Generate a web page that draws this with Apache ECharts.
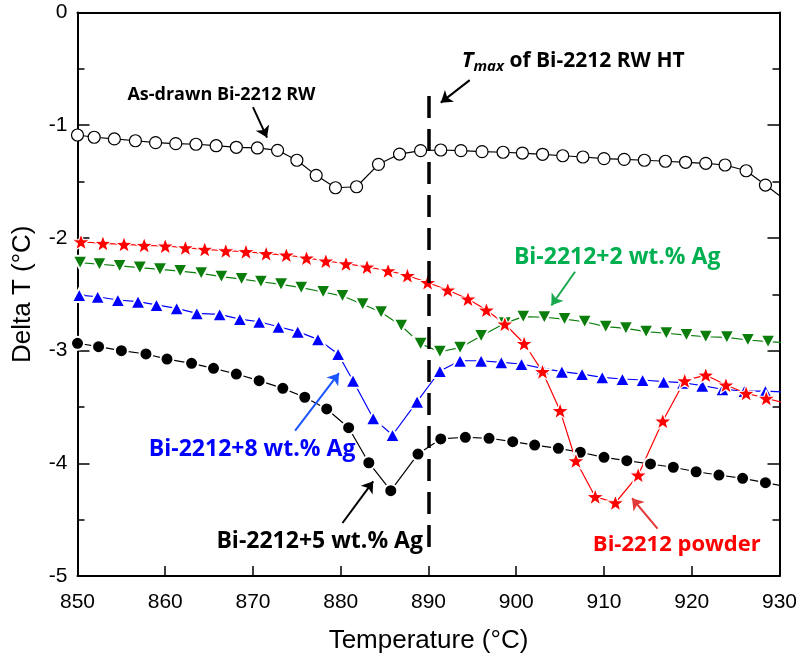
<!DOCTYPE html>
<html><head><meta charset="utf-8">
<script src="https://cdn.jsdelivr.net/npm/echarts@6/dist/echarts.min.js"></script>
<style>html,body{margin:0;padding:0;background:#fff}#c{width:800px;height:659px}</style>
</head><body><div id="c"></div>
<script>
// ---- data ----
const asDrawnT = [850,851.9,854.2,856.6,858.9,861.2,863.5,865.8,868.1,870.5,872.8,875.0,877.2,879.4,881.8,884.3,886.7,889.1,891.4,893.7,896.1,898.5,900.7,903.0,905.3,907.6,910.0,912.3,914.6,917.0,919.3,921.6,923.8,926.2,928.4,930.6];
const asDrawnV = [-1.087,-1.107,-1.122,-1.138,-1.155,-1.164,-1.169,-1.182,-1.196,-1.202,-1.223,-1.311,-1.445,-1.555,-1.546,-1.347,-1.256,-1.226,-1.220,-1.226,-1.235,-1.240,-1.247,-1.258,-1.271,-1.282,-1.297,-1.303,-1.311,-1.320,-1.329,-1.338,-1.353,-1.404,-1.531,-1.66];

const powderT = [850.4,852.9,855.3,857.6,860.0,862.3,864.5,866.9,869.2,871.5,873.8,876.1,878.3,880.6,883.0,885.4,887.6,889.9,892.2,894.5,896.6,898.7,900.9,903.0,905.0,906.8,909.0,911.3,913.9,916.7,919.2,921.6,923.9,926.2,928.5,930.8];
const powderV = [-2.034,-2.048,-2.057,-2.066,-2.072,-2.087,-2.101,-2.114,-2.122,-2.140,-2.152,-2.178,-2.205,-2.229,-2.258,-2.291,-2.334,-2.396,-2.462,-2.542,-2.640,-2.764,-2.937,-3.187,-3.533,-3.977,-4.296,-4.350,-4.104,-3.625,-3.267,-3.217,-3.305,-3.379,-3.423,-3.47];

const ag2T = [850.3,852.5,854.8,857.1,859.4,861.7,864.1,866.4,868.7,870.9,873.2,875.5,878.0,880.2,882.5,884.6,886.9,889.1,891.3,893.6,896.0,898.7,900.8,903.2,905.5,907.8,910.2,912.5,914.8,917.1,919.4,921.6,924.0,926.4,928.7,930.9];
const ag2V = [-2.220,-2.234,-2.249,-2.264,-2.279,-2.294,-2.314,-2.344,-2.365,-2.389,-2.412,-2.442,-2.48,-2.516,-2.589,-2.660,-2.780,-2.940,-3.010,-2.974,-2.870,-2.758,-2.699,-2.704,-2.720,-2.744,-2.788,-2.802,-2.832,-2.846,-2.862,-2.877,-2.882,-2.906,-2.921,-2.93];

const ag8T = [850.2,852.3,854.6,856.9,859.0,861.3,863.6,866.2,868.5,870.7,872.9,875.1,877.4,879.7,881.4,883.7,885.9,888.7,891.3,893.6,896.0,898.3,900.6,903.0,905.2,907.5,909.8,912.1,914.4,916.8,919.0,921.2,923.5,926.0,928.4,930.8];
const ag8V = [-2.507,-2.522,-2.551,-2.566,-2.595,-2.625,-2.669,-2.678,-2.720,-2.744,-2.788,-2.832,-2.90,-3.030,-3.267,-3.601,-3.749,-3.453,-3.181,-3.090,-3.090,-3.104,-3.119,-3.157,-3.187,-3.208,-3.237,-3.252,-3.261,-3.276,-3.285,-3.311,-3.343,-3.359,-3.359,-3.37];

const ag5T = [850.0,852.4,855.0,857.8,860.2,863.0,865.5,868.1,870.7,873.4,875.9,878.4,880.9,883.2,885.7,888.8,891.4,894.2,896.9,899.6,902.1,904.8,907.3,910.0,912.6,915.3,917.9,920.5,923.1,925.8,928.4,931.0];
const ag5V = [-2.935,-2.965,-3.001,-3.030,-3.075,-3.113,-3.157,-3.208,-3.267,-3.335,-3.414,-3.518,-3.684,-3.995,-4.243,-3.918,-3.784,-3.769,-3.778,-3.808,-3.838,-3.867,-3.902,-3.947,-3.977,-4.006,-4.035,-4.075,-4.104,-4.133,-4.172,-4.21];

const xTickMin = 850, xTickMax = 930, xTickStep = 10;
const yTickMin = -5, yTickMax = 0, yTickStep = 1;
const tmax = 890;
const tmaxLine = [-0.74, -4.81];

// annotation arrows: [fromT, fromV, toT, toV]
const arrowAsDrawn = [870.0, -0.84, 871.6, -1.11];
const arrowTmax = [894.7, -0.60, 891.4, -0.80];
const arrowAg2 = [906.7, -2.30, 904.0, -2.60];
const arrowAg8 = [874.8, -3.71, 879.8, -3.20];
const arrowAg5 = [880.2, -4.53, 883.7, -4.16];
const arrowPowder = [916.1, -4.58, 913.2, -4.31];

// annotation text anchors [T, V]
const labelAsDrawn = [866.4, -0.735];
const labelTmax = [893.8, -0.43];
const labelAg2 = [911.5, -2.17];
const labelAg8 = [869.9, -3.875];
const labelAg5 = [877.6, -4.69];
const labelPowder = [918.3, -4.725];

const zip = (a, b) => a.map((v, i) => [v, b[i]]);
const STAR = 'path://M0,-10 L2.35,-3.24 L9.51,-3.09 L3.8,1.24 L5.88,8.09 L0,4 L-5.88,8.09 L-3.8,1.24 L-9.51,-3.09 L-2.35,-3.24 Z';

const RED = '#ff0000', GREEN = '#0b7d0b', BLUE = '#0000ff', BLACK = '#000000';
const GREEN_TXT = '#00b050';

function arrow(a, color) {
  return [
    {coord: [a[0], a[1]], symbol: 'none', lineStyle: {color: color, width: 2, type: 'solid'}},
    {coord: [a[2], a[3]], symbol: 'arrow', symbolSize: 11}
  ];
}

const chart = echarts.init(document.getElementById('c'), null, {renderer: 'canvas'});
const axisFont = 'Liberation Sans, Arial, sans-serif';

const option = {
  animation: false,
  backgroundColor: '#fff',
  grid: {left: 77.5, right: 20.5, top: 12.5, bottom: 83, containLabel: false},
  xAxis: [{
    type: 'value', min: xTickMin, max: xTickMax, interval: xTickStep, position: 'bottom',
    axisLine: {onZero: false, lineStyle: {color: '#000', width: 2}},
    axisTick: {inside: true, length: 10, lineStyle: {color: '#000', width: 1.5}},
    axisLabel: {color: '#000', fontSize: 21, fontFamily: axisFont, margin: 16},
    splitLine: {show: false},
    name: 'Temperature (°C)', nameLocation: 'middle', nameGap: 52,
    nameTextStyle: {color: '#000', fontSize: 26, fontFamily: axisFont}
  }, {
    type: 'value', min: xTickMin, max: xTickMax, interval: xTickStep, position: 'top',
    axisLine: {onZero: false, lineStyle: {color: '#000', width: 2}},
    axisTick: {show: false}, axisLabel: {show: false}, splitLine: {show: false}
  }],
  yAxis: [{
    type: 'value', min: yTickMin, max: yTickMax, interval: yTickStep, position: 'left',
    axisLine: {show: true, onZero: false, lineStyle: {color: '#000', width: 2}},
    axisTick: {show: true, inside: true, length: 12, lineStyle: {color: '#000', width: 1.5}},
    minorTick: {show: true, splitNumber: 2, length: 7, lineStyle: {color: '#000', width: 1.5}},
    axisLabel: {color: '#000', fontSize: 21, fontFamily: axisFont, margin: 10},
    splitLine: {show: false}, minorSplitLine: {show: false},
    name: 'Delta T (°C)', nameLocation: 'middle', nameGap: 42, nameRotate: 90,
    nameTextStyle: {color: '#000', fontSize: 26, fontFamily: axisFont}
  }, {
    type: 'value', min: yTickMin, max: yTickMax, interval: yTickStep, position: 'right',
    axisLine: {show: true, onZero: false, lineStyle: {color: '#000', width: 2}},
    axisTick: {show: true, inside: true, length: 12, lineStyle: {color: '#000', width: 1.5}},
    minorTick: {show: true, splitNumber: 2, length: 7, lineStyle: {color: '#000', width: 1.5}},
    axisLabel: {show: false}, splitLine: {show: false}
  }],
  series: [
    {
      name: 'Bi-2212+5 wt.% Ag', type: 'line', data: zip(ag5T, ag5V), clip: true,
      symbol: 'circle', symbolSize: 13,
      itemStyle: {color: BLACK, borderColor: '#fff', borderWidth: 2},
      lineStyle: {color: BLACK, width: 1.2}
    },
    {
      name: 'Bi-2212+8 wt.% Ag', type: 'line', data: zip(ag8T, ag8V), clip: true,
      symbol: 'triangle', symbolSize: [15, 14],
      itemStyle: {color: BLUE, borderColor: '#fff', borderWidth: 2},
      lineStyle: {color: BLUE, width: 1.2}
    },
    {
      name: 'Bi-2212+2 wt.% Ag', type: 'line', data: zip(ag2T, ag2V), clip: true,
      symbol: 'triangle', symbolRotate: 180, symbolSize: [15, 14],
      itemStyle: {color: GREEN, borderColor: '#fff', borderWidth: 2},
      lineStyle: {color: GREEN, width: 1.2}
    },
    {
      name: 'Bi-2212 powder', type: 'line', data: zip(powderT, powderV), clip: true,
      symbol: STAR, symbolSize: [18, 17],
      itemStyle: {color: RED, borderColor: '#fff', borderWidth: 1.2, borderJoin: 'round'},
      lineStyle: {color: RED, width: 1.2}
    },
    {
      name: 'As-drawn Bi-2212 RW', type: 'line', data: zip(asDrawnT, asDrawnV), clip: true,
      symbol: 'circle', symbolSize: 12,
      itemStyle: {color: '#fff', borderColor: BLACK, borderWidth: 1.2},
      lineStyle: {color: BLACK, width: 1.2},
      markLine: {
        silent: true, animation: false, label: {show: false},
        symbol: ['none', 'arrow'], symbolSize: 11,
        data: [
          [
            {coord: [tmax, tmaxLine[0]], symbol: 'none', lineStyle: {color: '#000', width: 3.5, type: [22, 11]}},
            {coord: [tmax, tmaxLine[1]], symbol: 'none'}
          ],
          arrow(arrowAsDrawn, '#000'),
          arrow(arrowTmax, '#000'),
          arrow(arrowAg2, '#1aa84f'),
          arrow(arrowAg8, '#1a55ff'),
          arrow(arrowAg5, '#000'),
          arrow(arrowPowder, '#e23a3a')
        ]
      }
    }
  ]
};
chart.setOption(option);

const annFont = '"Open Sans", "Liberation Sans", Arial, sans-serif';
function txt(pos, text, color, size) {
  const p = chart.convertToPixel({xAxisIndex: 0, yAxisIndex: 0}, pos);
  return {
    type: 'text', x: p[0], y: p[1], z: 100,
    style: {text: text, fill: color, font: 'bold ' + size + 'px ' + annFont, align: 'center', verticalAlign: 'middle'}
  };
}
const pT = chart.convertToPixel({xAxisIndex: 0, yAxisIndex: 0}, labelTmax);
chart.setOption({
  graphic: [
    txt(labelAsDrawn, 'As-drawn Bi-2212 RW', '#000', 18),
    {
      type: 'text', x: pT[0], y: pT[1], z: 100,
      style: {
        text: '{i|T}{s|max}{n| of Bi-2212 RW HT}',
        align: 'left', verticalAlign: 'middle',
        rich: {
          i: {font: 'italic bold 22px ' + annFont, fill: '#000'},
          s: {font: 'italic bold 15px ' + annFont, fill: '#000', padding: [11, 0, 0, 0]},
          n: {font: 'bold 21px ' + annFont, fill: '#000'}
        }
      }
    },
    txt(labelAg2, 'Bi-2212+2 wt.% Ag', GREEN_TXT, 23),
    txt(labelAg8, 'Bi-2212+8 wt.% Ag', BLUE, 23),
    txt(labelAg5, 'Bi-2212+5 wt.% Ag', '#000', 23),
    txt(labelPowder, 'Bi-2212 powder', RED, 22)
  ]
});
</script>
</body></html>
